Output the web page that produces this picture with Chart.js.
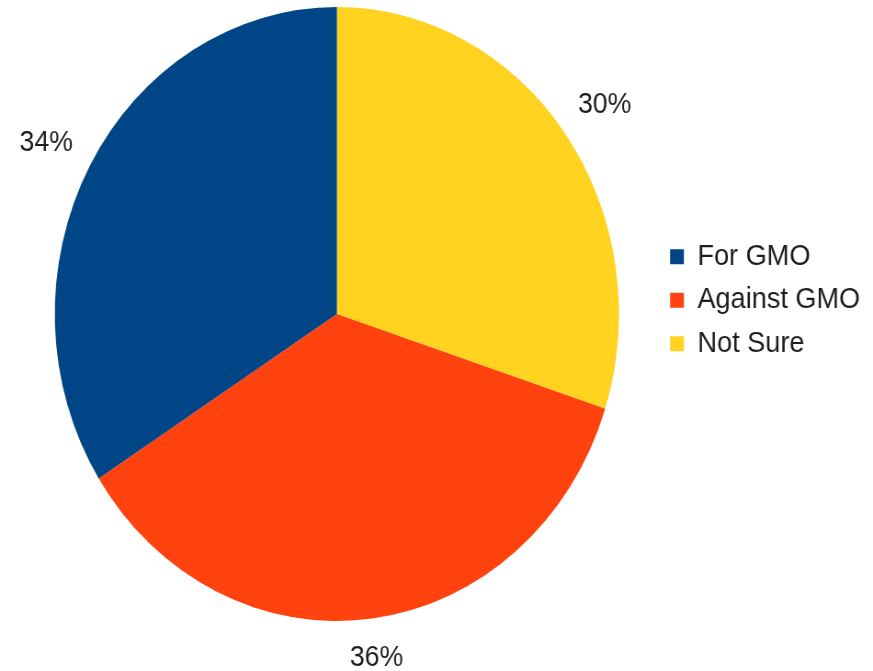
<!DOCTYPE html>
<html>
<head>
<meta charset="utf-8">
<script src="https://cdn.jsdelivr.net/npm/chart.js@4/dist/chart.umd.min.js"></script>
<style>
  html, body { margin: 0; padding: 0; background: #fff; }
</style>
</head>
<body>
<!-- drawn at 950 wide, shown at 873: the original picture is squeezed sideways -->
<canvas id="pie" width="950" height="671" style="width:873px;height:671px;"></canvas>
<script>
// data, clockwise from 12 o'clock
const categories = ['Not Sure', 'Against GMO', 'For GMO'];
const shares = [30, 36, 34];
const sliceColors = ['#ffd320', '#ff420e', '#004586'];

const FONT = '"Liberation Sans", Arial, sans-serif';
const TEXT_COLOR = '#1e1e1e';

// percent labels just outside each slice
const outsideLabels = {
  id: 'outsideLabels',
  afterDatasetsDraw(chart) {
    const ctx = chart.ctx;
    const meta = chart.getDatasetMeta(0);
    const size = 29;
    ctx.save();
    ctx.font = size + 'px ' + FONT;
    ctx.fillStyle = TEXT_COLOR;
    ctx.textAlign = 'center';
    ctx.textBaseline = 'alphabetic';
    meta.data.forEach((arc, i) => {
      const p = arc.getProps(['x', 'y', 'startAngle', 'endAngle', 'outerRadius'], true);
      const mid = (p.startAngle + p.endAngle) / 2;
      const cos = Math.cos(mid), sin = Math.sin(mid);
      const text = shares[i] + '%';
      const hw = ctx.measureText(text).width / 2;
      const hh = size * 0.716 / 2;
      const dist = p.outerRadius + 23.5 + Math.abs(cos) * hw + Math.abs(sin) * hh;
      ctx.fillText(text, p.x + cos * dist, p.y + sin * dist + hh);
    });
    ctx.restore();
  }
};

new Chart(document.getElementById('pie'), {
  type: 'pie',
  data: {
    labels: categories,
    datasets: [{
      data: shares,
      backgroundColor: sliceColors,
      borderWidth: 0,
      hoverOffset: 0
    }]
  },
  options: {
    responsive: false,
    devicePixelRatio: 1,
    animation: false,
    layout: { padding: { left: 18, right: 4, top: 7, bottom: 50 } },
    plugins: {
      tooltip: { enabled: false },
      legend: {
        position: 'right',
        align: 'start',
        reverse: true,
        title: { display: true, text: '', font: { size: 10 }, padding: { top: 209, bottom: 0 } },
        labels: {
          boxWidth: 15,
          boxHeight: 15,
          padding: 14,
          color: TEXT_COLOR,
          font: { family: FONT, size: 29.5 }
        }
      }
    }
  },
  plugins: [outsideLabels]
});
</script>
</body>
</html>
